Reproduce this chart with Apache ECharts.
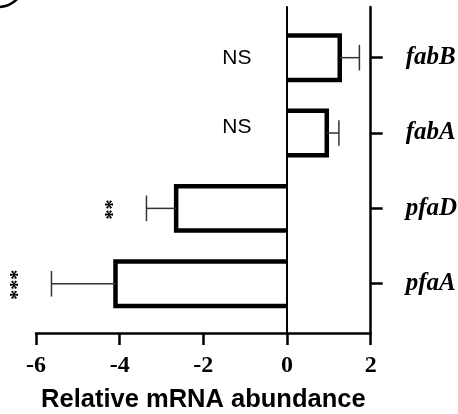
<!DOCTYPE html>
<html>
<head>
<meta charset="utf-8">
<script src="https://cdn.jsdelivr.net/npm/echarts@6/dist/echarts.min.js"></script>
<style>
html,body{margin:0;padding:0;background:#fff;}
#chart{width:458px;height:414px;}
</style>
</head>
<body>
<div id="chart"></div>
<script>
// Data (top to bottom as shown)
const genes = ['fabB', 'fabA', 'pfaD', 'pfaA'];
const meanValues = [1.26, 0.95, -2.65, -4.10];
const errValues = [0.47, 0.29, 0.71, 1.53];
const sigLabels = ['NS', 'NS', '**', '***'];
const xTicks = [-6, -4, -2, 0, 2];

const chart = echarts.init(document.getElementById('chart'), null, {renderer: 'canvas'});

const barData = meanValues.map((v, i) => [v, i, errValues[i], i]);

const option = {
  backgroundColor: '#fff',
  animation: false,
  graphic: [{
    type: 'circle',
    shape: {cx: -2, cy: -20, r: 27},
    style: {fill: 'none', stroke: '#000', lineWidth: 2.5}
  }],
  grid: [
    {left: 36, right: 87.3, top: 20, bottom: 92.6, containLabel: false, outerBoundsMode: 'none'},
    {left: 36, right: 87.3, top: 7, bottom: 81, containLabel: false, outerBoundsMode: 'none'}
  ],
  xAxis: [
    {gridIndex: 0, type: 'value', min: xTicks[0], max: xTicks[xTicks.length - 1], show: false},
    {
      gridIndex: 1, type: 'value', min: xTicks[0], max: xTicks[xTicks.length - 1], interval: 2,
      axisLine: {show: true, onZero: false, lineStyle: {color: '#000', width: 2.5}},
      axisTick: {show: true, length: 12, lineStyle: {color: '#000', width: 2.5}},
      splitLine: {show: false},
      axisLabel: {
        color: '#000', fontFamily: 'Liberation Serif', fontWeight: 'bold', fontSize: 24, margin: 21
      },
      name: 'Relative mRNA abundance',
      nameLocation: 'middle',
      nameGap: 54,
      nameTextStyle: {color: '#000', fontFamily: 'Liberation Sans', fontWeight: 'bold', fontSize: 25.5}
    }
  ],
  yAxis: [
    {
      gridIndex: 0, type: 'category', data: genes, inverse: true, position: 'right',
      axisLine: {show: false, onZero: false},
      axisTick: {show: true, alignWithLabel: true, length: 12, lineStyle: {color: '#000', width: 2.5}},
      axisLabel: {
        color: '#000', fontFamily: 'Liberation Serif', fontWeight: 'bold', fontStyle: 'italic',
        fontSize: 25, margin: 35
      },
      splitLine: {show: false}
    },
    {
      gridIndex: 1, type: 'value', min: 0, max: 1, position: 'left',
      axisLine: {show: true, onZero: true, lineStyle: {color: '#000', width: 2}},
      axisTick: {show: false}, axisLabel: {show: false}, splitLine: {show: false}
    },
    {
      gridIndex: 1, type: 'value', min: 0, max: 1, position: 'right',
      axisLine: {show: true, onZero: false, lineStyle: {color: '#000', width: 2.5}},
      axisTick: {show: false}, axisLabel: {show: false}, splitLine: {show: false}
    }
  ],
  series: [
    {
      type: 'custom', xAxisIndex: 0, yAxisIndex: 0,
      data: barData, encode: {x: 0, y: 1},
      clip: false,
      z: 3,
      renderItem: function (params, api) {
        const v = api.value(0);
        const c = api.value(1);
        const e = api.value(2);
        const idx = api.value(3);
        const band = api.size([0, 1])[1];
        const bh = band * 0.59 / 2;
        const base = api.coord([0, c]);
        const p0 = api.coord([v, c]);
        const end = v >= 0 ? v + e : v - e;
        const p1 = api.coord([end, c]);
        const half = band * 0.17;
        const children = [
          {type: 'polyline', shape: {points: [[base[0], p0[1] - bh], [p0[0], p0[1] - bh], [p0[0], p0[1] + bh], [base[0], p0[1] + bh]]},
           style: {fill: null, stroke: '#000', lineWidth: 4.5, lineJoin: 'miter'}},
          {type: 'line', shape: {x1: p0[0], y1: p0[1], x2: p1[0], y2: p1[1]},
           style: {stroke: '#333', lineWidth: 1.5}},
          {type: 'line', shape: {x1: p1[0], y1: p1[1] - half, x2: p1[0], y2: p1[1] + half},
           style: {stroke: '#333', lineWidth: 1.5}}
        ];
        const lab = sigLabels[idx];
        if (v >= 0) {
          const pt = api.coord([-1.2, c]);
          children.push({type: 'text', x: pt[0], y: pt[1] + (idx === 1 ? -6 : 1),
            style: {text: lab, fill: '#000', font: '21px "Liberation Sans"', align: 'center', verticalAlign: 'middle'}});
        } else {
          children.push({type: 'text', x: p1[0] - 33, y: p1[1] + 1, rotation: Math.PI / 2,
            style: {text: lab, fill: '#000', font: 'bold 20px "Liberation Serif"', align: 'center', verticalAlign: 'middle'}});
        }
        return {type: 'group', children: children};
      }
    }
  ]
};
chart.setOption(option);
</script>
</body>
</html>
